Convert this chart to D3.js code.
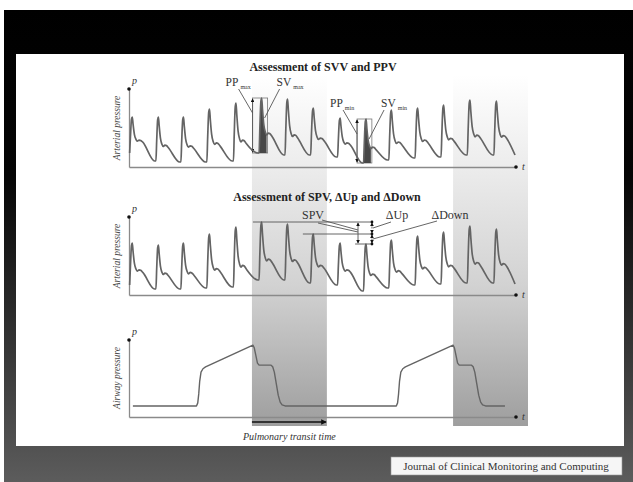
<!DOCTYPE html>
<html>
<head>
<meta charset="utf-8">
<script src="https://cdn.jsdelivr.net/npm/d3@7"></script>
<style>
  body { margin: 0; background: #fff; }
  text { font-family: "Liberation Serif", "DejaVu Serif", serif; }
</style>
</head>
<body>
<svg id="fig"></svg>
<script>
// beat onsets in seconds, shared by both arterial traces
var beatOnsets = [0.02, 0.83, 1.60, 2.40, 3.22, 4.01, 4.81, 5.60, 6.43, 7.23, 8.01, 8.82, 9.62, 10.43, 11.25];
var traceEnd = 11.90;

// SVV / PPV trace: systolic peaks and diastolic values (mmHg)
var svvPeaks = [100, 100, 100, 108, 114, 119, 118, 109, 99, 98, 107, 109, 112, 117, 116];
var svvDias = [64, 56, 55, 55, 56, 64, 62, 62, 60, 54, 57, 59, 60, 62, 62];
var svvEndDia = 62;

// SPV / dUp / dDown trace
var spvPeaks = [102, 100, 102, 111, 118, 123, 121, 111, 102, 101, 105, 109, 113, 119, 116];
var spvDias = [60, 56, 56, 57, 58, 65, 65, 62, 60, 54, 57, 60, 61, 62, 62];
var spvEndDia = 61;

// shape of one beat: phase of the period, level between diastolic and peak
var beatPhase = [0, 0.03, 0.07, 0.10, 0.13, 0.18, 0.24, 0.29, 0.36, 0.42, 0.50];
var beatLevel = [0, 0.45, 0.94, 1.00, 0.80, 0.52, 0.38, 0.33, 0.36, 0.35, 0.30];
var notchIndex = 7;
var troughPhase = 0.95;

// airway pressure (cmH2O) over two mechanical breaths
var airTime = [0.12, 2.08, 2.12, 2.15, 2.18, 2.22, 2.28, 2.36, 3.82, 3.86, 3.91, 3.96, 4.01,
               4.38, 4.43, 4.48, 4.54, 4.60, 4.66, 4.72, 4.81,
               8.24, 8.28, 8.31, 8.34, 8.38, 8.44, 8.52, 9.99, 10.03, 10.08, 10.13, 10.18,
               10.56, 10.61, 10.66, 10.72, 10.78, 10.84, 10.90, 10.99, 11.59];
var airPressure = [4.3, 4.3, 5.5, 9, 14, 17.5, 18.8, 19.5, 28, 27, 24, 21, 20.2,
                   20.2, 19.6, 17.5, 13, 8.5, 5.8, 4.7, 4.3,
                   4.3, 5.5, 9, 14, 17.5, 18.8, 19.5, 28, 27, 24, 21, 20.2,
                   20.2, 19.6, 17.5, 13, 8.5, 5.8, 4.7, 4.3, 4.3];

// shaded inspiratory bands (s)
var bandStart = [3.79, 9.99];
var bandEnd = [6.10, 12.30];

var W = 633, H = 482;
var svg = d3.select("#fig").attr("width", W).attr("height", H);
var defs = svg.append("defs");

var frameGrad = defs.append("linearGradient").attr("id", "frameGrad")
  .attr("x1", 0).attr("y1", 0).attr("x2", 0).attr("y2", 1);
frameGrad.append("stop").attr("offset", 0).attr("stop-color", "#000");
frameGrad.append("stop").attr("offset", 0.35).attr("stop-color", "#050505");
frameGrad.append("stop").attr("offset", 0.75).attr("stop-color", "#3a3a3a");
frameGrad.append("stop").attr("offset", 1).attr("stop-color", "#5c5c5c");

var bandGrad = defs.append("linearGradient").attr("id", "bandGrad")
  .attr("gradientUnits", "userSpaceOnUse")
  .attr("x1", 0).attr("y1", 75).attr("x2", 0).attr("y2", 426);
bandGrad.append("stop").attr("offset", 0).attr("stop-color", "#ffffff");
bandGrad.append("stop").attr("offset", 0.25).attr("stop-color", "#ededed");
bandGrad.append("stop").attr("offset", 0.6).attr("stop-color", "#d2d2d2");
bandGrad.append("stop").attr("offset", 1).attr("stop-color", "#9e9e9e");

defs.append("marker").attr("id", "tip")
  .attr("viewBox", "0 0 6 6").attr("refX", 5).attr("refY", 3)
  .attr("markerWidth", 4).attr("markerHeight", 4).attr("orient", "auto-start-reverse")
  .append("path").attr("d", "M0,0L6,3L0,6Z").attr("fill", "#111");

// background frame and white panel
svg.append("rect").attr("width", W).attr("height", H).attr("fill", "#fff");
svg.append("rect").attr("x", 4).attr("y", 10).attr("width", W - 4).attr("height", H - 10)
  .attr("fill", "url(#frameGrad)");
svg.append("rect").attr("x", 16).attr("y", 54).attr("width", 608).attr("height", 392)
  .attr("fill", "#fff");

var x = d3.scaleLinear().domain([0, 11.93]).range([129, 516]);
var y1 = d3.scaleLinear().domain([50, 128]).range([167, 89]);
var y2 = d3.scaleLinear().domain([50, 128]).range([295, 217]);
var y3 = d3.scaleLinear().domain([0, 30]).range([417, 340]);

// bands
svg.selectAll(".band").data(bandStart).enter().append("rect")
  .attr("class", "band")
  .attr("x", (d, i) => x(d))
  .attr("width", (d, i) => x(bandEnd[i]) - x(d))
  .attr("y", 75).attr("height", 426 - 75)
  .attr("fill", "url(#bandGrad)");

function buildTrace(peaks, dias, endDia) {
  var pts = [];
  beatOnsets.forEach(function(t0, i) {
    var last = i == beatOnsets.length - 1;
    var T = last ? 0.8 : beatOnsets[i + 1] - t0;
    var dia = dias[i], amp = peaks[i] - dia;
    var nextDia = last ? endDia : dias[i + 1];
    beatPhase.forEach(function(ph, j) {
      pts.push({t: t0 + ph * T, v: dia + beatLevel[j] * amp, beat: i, k: j});
    });
    pts.push({t: Math.min(t0 + troughPhase * T, traceEnd), v: nextDia, beat: i, k: -1});
  });
  return pts.filter(d => d.t <= traceEnd);
}

function drawAxes(yScale, label, labelY) {
  var y0 = yScale.range()[0], yTop = yScale.range()[1];
  svg.append("g").attr("transform", `translate(0,${y0})`)
    .call(d3.axisBottom(x).tickValues([]).tickSizeOuter(0))
    .select(".domain").attr("stroke", "#8a8a8a").attr("stroke-width", 1.3);
  svg.append("g").attr("transform", `translate(${x.range()[0]},0)`)
    .call(d3.axisLeft(yScale).tickValues([]).tickSizeOuter(0))
    .select(".domain").attr("stroke", "#8a8a8a").attr("stroke-width", 1.3);
  svg.append("circle").attr("cx", x.range()[0]).attr("cy", yTop).attr("r", 1.8).attr("fill", "#111");
  svg.append("circle").attr("cx", x.range()[1]).attr("cy", y0).attr("r", 1.8).attr("fill", "#111");
  svg.append("text").attr("x", x.range()[0] + 3).attr("y", yTop - 5)
    .attr("font-size", 10).attr("font-style", "italic").attr("fill", "#333").text("p");
  svg.append("text").attr("x", x.range()[1] + 6).attr("y", y0 + 3)
    .attr("font-size", 10).attr("font-style", "italic").attr("fill", "#333").text("t");
  svg.append("text").attr("transform", `translate(120,${labelY}) rotate(-90)`)
    .attr("text-anchor", "middle").attr("font-size", 9.5).attr("font-style", "italic")
    .attr("fill", "#444").text(label);
}

function drawTrace(pts, yScale) {
  var line = d3.line().x(d => x(d.t)).y(d => yScale(d.v)).curve(d3.curveMonotoneX);
  svg.append("path").datum(pts).attr("d", line)
    .attr("fill", "none").attr("stroke", "#646464").attr("stroke-width", 1.7)
    .attr("stroke-linejoin", "round");
}

function thin(x1, yA, x2, yB, w) {
  return svg.append("line").attr("x1", x1).attr("y1", yA).attr("x2", x2).attr("y2", yB)
    .attr("stroke", "#555").attr("stroke-width", w || 0.9);
}

// titles
svg.append("text").attr("x", 323).attr("y", 71).attr("text-anchor", "middle")
  .attr("font-size", 12).attr("font-weight", "bold").attr("fill", "#222")
  .text("Assessment of SVV and PPV");
svg.append("text").attr("x", 327).attr("y", 201).attr("text-anchor", "middle")
  .attr("font-size", 12).attr("font-weight", "bold").attr("fill", "#222")
  .text("Assessment of SPV, \u0394Up and \u0394Down");

// ---- panel 1: SVV and PPV ----
drawAxes(y1, "Arterial pressure", 128);
var svvPts = buildTrace(svvPeaks, svvDias, svvEndDia);

[{k: 5, sub: "max"}, {k: 9, sub: "min"}].forEach(function(m) {
  var k = m.k, t0 = beatOnsets[k], T = beatOnsets[k + 1] - t0;
  var xa = x(t0 - 0.2), xn = x(t0 + beatPhase[notchIndex] * T) + 1;
  var yp = y1(svvPeaks[k]), yd = y1(svvDias[k]);
  svg.append("rect").attr("x", xa).attr("y", yp).attr("width", xn - xa).attr("height", yd - yp)
    .attr("fill", "none").attr("stroke", "#777").attr("stroke-width", 0.8);
  var area = d3.area().x(d => x(d.t)).y0(yd).y1(d => y1(d.v)).curve(d3.curveMonotoneX);
  svg.append("path")
    .datum(svvPts.filter(d => d.beat == k && d.k >= 0 && d.k <= notchIndex))
    .attr("d", area).attr("fill", "#474747");
  thin(xa, yp + 1, xa, yd - 1, 0.9).attr("marker-start", "url(#tip)").attr("marker-end", "url(#tip)");
  svg.append("text").attr("x", xa - 27).attr("y", yp - 12).attr("font-size", 11.5).attr("fill", "#333")
    .text("PP").append("tspan").attr("dx", 2).attr("dy", 3).attr("font-size", 6).text(m.sub);
  svg.append("text").attr("x", xa + 24).attr("y", yp - 12).attr("font-size", 11.5).attr("fill", "#333")
    .text("SV").append("tspan").attr("dx", 2).attr("dy", 3).attr("font-size", 6).text(m.sub);
  thin(xa - 14, yp - 9, xa, yp + 15);
  thin(xa + 27, yp - 9, xa + 12, yp + 20);
});
drawTrace(svvPts, y1);

// ---- panel 2: SPV, dUp, dDown ----
drawAxes(y2, "Arterial pressure", 256);
drawTrace(buildTrace(spvPeaks, spvDias, spvEndDia), y2);

var topLevel = spvPeaks[5], refLevel = spvPeaks[7], minLevel = spvPeaks[9];
var boxL = x(7.06), boxR = x(7.49);
thin(x(3.82), y2(topLevel), boxR, y2(topLevel), 0.9);
thin(x(5.36), y2(refLevel), boxR, y2(refLevel), 0.9);
thin(x(6.97), y2(minLevel), boxR, y2(minLevel), 0.9);
thin(boxL, y2(topLevel) + 1, boxL, y2(minLevel) - 1).attr("marker-start", "url(#tip)").attr("marker-end", "url(#tip)");
thin(boxR, y2(topLevel) + 1, boxR, y2(refLevel) - 1).attr("marker-start", "url(#tip)").attr("marker-end", "url(#tip)")
  .attr("stroke-dasharray", "2,1.5");
thin(boxR, y2(refLevel) + 1, boxR, y2(minLevel) - 1).attr("marker-start", "url(#tip)").attr("marker-end", "url(#tip)")
  .attr("stroke-dasharray", "2,1.5");
[topLevel, refLevel, minLevel].forEach(function(v) {
  svg.append("circle").attr("cx", boxR).attr("cy", y2(v)).attr("r", 1.4).attr("fill", "#111");
});
svg.append("text").attr("x", 313).attr("y", 219).attr("text-anchor", "middle").attr("font-size", 12)
  .attr("fill", "#333").text("SPV");
svg.append("text").attr("x", 397).attr("y", 219).attr("text-anchor", "middle").attr("font-size", 12)
  .attr("fill", "#333").text("\u0394Up");
svg.append("text").attr("x", 450).attr("y", 219).attr("text-anchor", "middle").attr("font-size", 12)
  .attr("fill", "#333").text("\u0394Down");
thin(322, 220, boxL, 230);
thin(318, 223, boxL, 232);
thin(391, 222, boxR + 1, 228);
thin(437, 221, boxR + 1, 239);

// ---- panel 3: airway pressure ----
drawAxes(y3, "Airway pressure", 378);
var airLine = d3.line().x((d, i) => x(airTime[i])).y(d => y3(d));
svg.append("path").datum(airPressure).attr("d", airLine)
  .attr("fill", "none").attr("stroke", "#646464").attr("stroke-width", 1.4)
  .attr("stroke-linejoin", "round");

svg.append("line").attr("x1", x(bandStart[0])).attr("x2", x(bandEnd[0]) - 1)
  .attr("y1", 422).attr("y2", 422).attr("stroke", "#111").attr("stroke-width", 1.4)
  .attr("marker-end", "url(#tip)");
svg.append("text").attr("x", (x(bandStart[0]) + x(bandEnd[0])) / 2).attr("y", 440)
  .attr("text-anchor", "middle").attr("font-size", 10).attr("font-style", "italic")
  .attr("fill", "#333").text("Pulmonary transit time");

// journal label
svg.append("rect").attr("x", 391).attr("y", 457).attr("width", 231).attr("height", 18)
  .attr("fill", "#f6f6f6").attr("stroke", "#999").attr("stroke-width", 0.6);
svg.append("text").attr("x", 506).attr("y", 470).attr("text-anchor", "middle")
  .attr("font-size", 11).attr("fill", "#333").text("Journal of Clinical Monitoring and Computing");
</script>
</body>
</html>
